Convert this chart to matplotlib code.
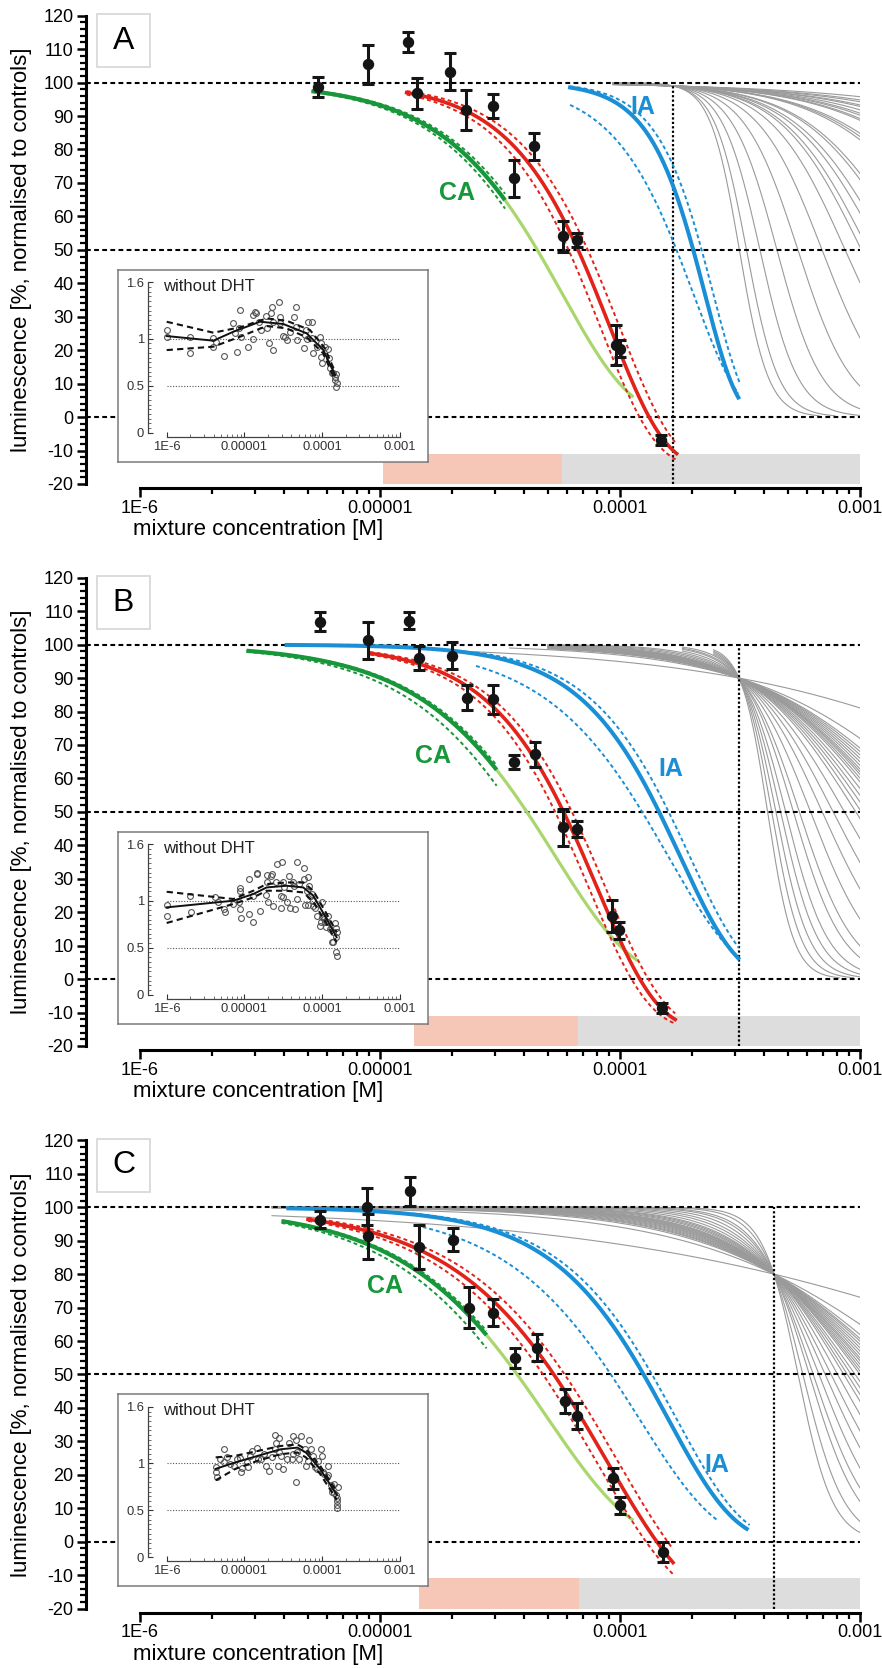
import numpy as np
import matplotlib
matplotlib.use('Agg')
import matplotlib.pyplot as plt
from matplotlib.patches import Rectangle
from matplotlib.ticker import FixedLocator, NullFormatter

plt.rcParams['font.family'] = ['Liberation Sans', 'DejaVu Sans']

W, H, DPI = 882, 1668, 100

# ---------------- tick data ----------------
x_ticks = [1e-6, 1e-5, 1e-4, 1e-3]
x_ticklabels = ['1E-6', '0.00001', '0.0001', '0.001']
y_ticks = list(range(-20, 121, 10))
ins_y_ticks = [0, 0.5, 1, 1.6]
ins_y_labels = ['0', '0.5', '1', '1.6']
panel_letters = ['A', 'B', 'C']

# ---------------- measured points (conc [M], mean [%], error) ----------------
conc_A = [5.5e-6, 8.9e-6, 1.31e-5, 1.42e-5, 1.96e-5, 2.28e-5, 2.95e-5, 3.63e-5, 4.4e-5, 5.8e-5, 6.6e-5, 9.6e-5, 1.0e-4, 1.48e-4]
mean_A = [98.6, 105.5, 112.2, 96.8, 103.3, 91.8, 93.0, 71.4, 80.9, 54.0, 53.0, 21.5, 20.5, -6.8]
err_A = [3.0, 5.8, 3.0, 4.7, 5.5, 6.0, 3.5, 5.5, 3.9, 4.7, 2.0, 6.0, 2.5, 1.5]

conc_B = [5.6e-6, 8.9e-6, 1.32e-5, 1.45e-5, 1.99e-5, 2.3e-5, 2.95e-5, 3.63e-5, 4.43e-5, 5.81e-5, 6.6e-5, 9.3e-5, 9.9e-5, 1.49e-4]
mean_B = [106.9, 101.3, 107.1, 96.0, 96.7, 84.1, 83.6, 64.9, 67.2, 45.4, 44.9, 18.8, 14.6, -8.7]
err_B = [2.7, 5.6, 2.5, 3.7, 4.0, 3.7, 4.2, 2.0, 3.8, 5.5, 2.5, 4.7, 2.5, 1.5]

conc_C = [5.6e-6, 8.8e-6, 8.9e-6, 1.33e-5, 1.45e-5, 2.02e-5, 2.34e-5, 2.96e-5, 3.65e-5, 4.5e-5, 5.9e-5, 6.6e-5, 9.33e-5, 1.0e-4, 1.51e-4]
mean_C = [96.3, 100.2, 91.3, 104.7, 88.1, 90.3, 70.0, 68.5, 54.8, 58.0, 42.1, 37.7, 19.0, 10.9, -3.0]
err_C = [2.5, 5.6, 6.8, 4.2, 6.5, 3.5, 6.2, 4.0, 3.0, 4.1, 3.6, 3.9, 3.1, 2.5, 3.0]

# ---------------- fitted curve parameters (Weibull with bottom) ----------------
# [bottom, slope k, location m (log10 M), log10 start, log10 end, CI shift]
red_A = [-15, 4.3, -4.044, -4.889, -3.764, 0.04]
red_B = [-15, 4.0, -4.095, -5.042, -3.770, 0.035]
red_C = [-20, 2.8, -4.055, -5.300, -3.779, 0.045]
# CA: [bottom, k, m, start, end of dark part, end of light part, CI low shift, CI high shift]
ca_A = [0, 3.5, -4.24, -5.285, -4.479, -3.944, -0.025, 0.02]
ca_B = [0, 3.1, -4.27, -5.556, -4.514, -3.924, -0.05, 0.015]
ca_C = [0, 2.85, -4.30, -5.410, -4.556, -3.944, -0.045, 0.015]
# IA: [bottom, k, m, start, end]; upper CI [m shift, start, end]; lower CI [k, m, start, end]
ia_A = [0, 7.5, -3.646, -4.208, -3.507]
ia_A_hi = [0.035, -4.208, -3.50]
ia_A_lo = [5.2, -3.694, -4.208, -3.507]
ia_B = [0, 4.2, -3.75, -5.389, -3.507]
ia_B_hi = [0.04, -4.60, -3.505]
ia_B_lo = [3.4, -3.80, -4.60, -3.528]
ia_C = [0, 3.6, -3.80, -5.382, -3.472]
ia_C_hi = [0.035, -4.95, -3.46]
ia_C_lo = [3.1, -3.92, -4.85, -3.597]

# ---------------- grey single-substance curves ----------------
pivot_A = [1.66e-4, 99.0]
pivot_B = [3.13e-4, 90.0]
pivot_C = [4.38e-4, 80.0]
grey_slopes_A = [0.82, 0.94, 1.0, 1.09, 1.13, 1.21, 1.28, 1.32, 1.38, 1.41, 1.6, 1.64, 1.68, 2.01,
                 2.06, 2.22, 2.31, 2.45, 2.54, 2.78, 3.21, 3.83, 4.6, 5.5, 6.5, 7.2]
grey_start_A = [-4.03] * len(grey_slopes_A)
grey_slopes_B = [0.64, 1.08, 1.20, 1.24, 1.28, 1.32, 1.36, 1.40, 1.44, 1.47, 1.50, 1.54, 1.58, 1.65, 1.72,
                 1.79, 1.87, 1.96, 2.17, 2.43, 2.75, 3.20, 3.79, 4.20, 4.90, 5.50, 6.20, 7.00, 8.00]
grey_start_B = [-4.65, -4.46, -4.30, -4.30, -4.30, -4.30, -4.30, -4.30, -4.30, -4.30, -4.30, -4.30, -4.30,
                -4.30, -4.30, -4.30, -4.30, -4.30, -4.30, -4.30, -4.30, -3.74, -3.74, -3.74, -3.74, -3.61,
                -3.61, -3.61, -3.61]
grey_slopes_C = [0.47, 0.93, 1.09, 1.15, 1.19, 1.24, 1.29, 1.34, 1.39, 1.44, 1.48, 1.53, 1.58, 1.63, 1.68,
                 1.78, 1.87, 1.97, 2.07, 2.27, 2.53, 2.82, 3.21, 3.68, 4.09, 5.0, 6.0]
grey_start_C = [-5.45] * len(grey_slopes_C)

# ---------------- bottom bands ----------------
band_pink_A = [1.03e-5, 5.71e-5]
band_grey_A = [5.71e-5, 1e-3]
band_pink_B = [1.39e-5, 6.7e-5]
band_grey_B = [6.7e-5, 1e-3]
band_pink_C = [1.46e-5, 6.76e-5]
band_grey_C = [6.76e-5, 1e-3]

# ---------------- labels positions (data) ----------------
ca_label_A = [2.09e-5, 66.9]
ia_label_A = [1.25e-4, 92.8]
ca_label_B = [1.67e-5, 66.7]
ia_label_B = [1.63e-4, 62.8]
ca_label_C = [1.05e-5, 76.4]
ia_label_C = [2.54e-4, 22.8]

# ---------------- inset data (log10 conc, ratio) ----------------
insA_logc = [-6.0, -6.0, -5.70, -5.70, -5.40, -5.40, -5.366, -5.263, -5.143, -5.122, -5.092, -5.066, -5.057,
             -5.049, -4.950, -4.895, -4.886, -4.865, -4.852, -4.809, -4.792, -4.723, -4.715, -4.689, -4.663,
             -4.650, -4.638, -4.629, -4.552, -4.543, -4.543, -4.509, -4.475, -4.458, -4.415, -4.363, -4.338,
             -4.338, -4.329, -4.235, -4.222, -4.209, -4.200, -4.179, -4.136, -4.136, -4.115, -4.072, -4.029,
             -4.021, -4.016, -4.008, -3.965, -3.922, -3.913, -3.901, -3.879, -3.858, -3.836, -3.823, -3.836,
             -3.815, -3.823]
insA_ratio = [1.092, 1.014, 1.014, 0.851, 1.004, 0.915, 0.968, 0.819, 1.170, 1.057, 0.862, 1.110, 1.305,
              1.014, 0.915, 1.252, 0.993, 1.287, 1.277, 1.181, 1.092, 1.245, 1.110, 0.957, 1.270, 1.333,
              0.879, 1.174, 1.394, 1.234, 1.163, 1.028, 1.014, 0.986, 1.074, 1.234, 1.333, 1.128, 0.986,
              0.904, 1.039, 1.092, 0.993, 1.181, 1.181, 1.004, 0.844, 0.908, 1.021, 0.957, 0.809, 0.745,
              0.915, 0.887, 0.791, 0.684, 0.638, 0.631, 0.596, 0.624, 0.560, 0.525, 0.489]
insA_line_logc = [-6.0, -5.40, -5.143, -4.8, -4.5, -4.2, -3.986, -3.836]
insA_line = [1.028, 0.979, 1.074, 1.181, 1.156, 1.057, 0.879, 0.613]
insA_upper_logc = [-6.0, -5.4, -5.057, -4.715, -4.458, -4.157, -3.965, -3.836]
insA_upper = [1.18, 1.064, 1.121, 1.216, 1.191, 1.092, 0.897, 0.649]
insA_lower_logc = [-6.0, -5.4, -5.057, -4.715, -4.458, -4.2, -3.986, -3.836]
insA_lower = [0.879, 0.915, 1.021, 1.135, 1.11, 1.014, 0.844, 0.56]

insB_logc = [-6.0, -6.0, -5.700, -5.687, -5.379, -5.344, -5.259, -5.250, -5.143, -5.070, -5.057, -5.057,
             -5.057, -5.049, -4.946, -4.937, -4.886, -4.886, -4.843, -4.835, -4.800, -4.723, -4.715, -4.706,
             -4.702, -4.663, -4.642, -4.629, -4.595, -4.586, -4.530, -4.522, -4.530, -4.500, -4.500, -4.488,
             -4.458, -4.432, -4.415, -4.372, -4.363, -4.355, -4.329, -4.329, -4.295, -4.231, -4.231, -4.218,
             -4.200, -4.183, -4.179, -4.166, -4.158, -4.132, -4.123, -4.115, -4.089, -4.063, -4.029, -4.021,
             -4.008, -4.0, -3.986, -3.978, -3.961, -3.952, -3.943, -3.922, -3.901, -3.879, -3.858, -3.836,
             -3.823, -3.815, -3.823, -3.823, -3.815, -3.858]
insB_ratio = [0.954, 0.841, 1.053, 0.883, 1.042, 0.989, 0.912, 0.883, 0.965, 0.982, 1.131, 1.106, 0.912,
              0.813, 0.859, 1.230, 0.777, 1.053, 1.300, 1.283, 0.894, 1.060, 1.194, 1.272, 0.982, 1.265,
              1.283, 0.940, 1.194, 1.389, 1.046, 1.413, 0.919, 1.194, 1.035, 1.141, 0.982, 1.265, 0.919,
              1.194, 1.159, 0.912, 1.413, 1.018, 1.177, 1.353, 1.230, 0.954, 1.106, 1.247, 0.954, 1.159,
              1.053, 1.071, 1.0, 0.947, 0.919, 0.841, 0.728, 0.770, 0.989, 0.823, 0.841, 0.806, 0.770,
              0.717, 0.770, 0.834, 0.700, 0.558, 0.664, 0.763, 0.707, 0.664, 0.611, 0.452, 0.417, 0.558]
insB_line_logc = [-6.0, -5.143, -4.886, -4.715, -4.458, -4.244, -4.115, -3.943, -3.815]
insB_line = [0.929, 1.0, 1.071, 1.141, 1.159, 1.141, 1.053, 0.806, 0.611]
insB_upper = [1.095, 1.018, 1.106, 1.177, 1.194, 1.194, 1.106, 0.859, 0.664]
insB_lower = [0.763, 0.965, 1.035, 1.106, 1.106, 1.088, 0.989, 0.753, 0.558]

insC_logc = [-5.370, -5.370, -5.348, -5.319, -5.261, -5.261, -5.225, -5.188, -5.130, -5.101, -5.058, -5.043,
             -5.029, -4.971, -4.949, -4.935, -4.899, -4.841, -4.826, -4.790, -4.754, -4.717, -4.681, -4.645,
             -4.609, -4.609, -4.594, -4.572, -4.558, -4.551, -4.536, -4.500, -4.449, -4.428, -4.391, -4.377,
             -4.333, -4.377, -4.341, -4.319, -4.297, -4.268, -4.225, -4.210, -4.188, -4.174, -4.138, -4.123,
             -4.087, -4.065, -4.051, -4.014, -4.007, -3.993, -3.971, -3.942, -3.920, -3.920, -3.884, -3.870,
             -3.855, -3.848, -3.826, -3.812, -3.812, -3.812, -3.812, -3.797]
insC_ratio = [0.906, 0.958, 0.854, 1.045, 1.149, 1.010, 1.063, 0.993, 0.976, 1.045, 1.052, 0.906, 0.948,
              1.010, 0.958, 1.080, 1.132, 1.167, 1.045, 1.045, 1.097, 0.976, 0.913, 1.063, 1.306, 1.149,
              1.219, 0.976, 1.271, 1.115, 1.080, 0.941, 1.045, 1.219, 1.045, 1.097, 0.802, 1.288, 1.253,
              1.115, 1.045, 1.288, 1.149, 0.976, 1.028, 1.253, 1.149, 1.080, 0.958, 0.941, 1.028, 1.149,
              1.080, 0.906, 0.889, 0.854, 0.872, 0.976, 0.767, 0.698, 0.785, 0.681, 0.663, 0.628, 0.594,
              0.559, 0.524, 0.750]
insC_line_logc = [-5.37, -5.116, -4.826, -4.536, -4.319, -4.210, -4.029, -3.812]
insC_line = [0.941, 1.010, 1.080, 1.149, 1.167, 1.115, 0.941, 0.663]
insC_upper = [1.063, 1.080, 1.132, 1.184, 1.201, 1.149, 0.976, 0.698]
insC_lower = [0.819, 0.941, 1.028, 1.097, 1.115, 1.063, 0.889, 0.611]

# ---------------- colours ----------------
RED = '#E2231A'
GREEN = '#17973A'
LGREEN = '#A9D76E'
BLUE = '#1A8FD6'
GREY = '#9A9A9A'
PINK = '#F6C6B6'
BANDGREY = '#DDDDDD'


def weib(u, bottom, k, m):
    return bottom + (100.0 - bottom) * np.exp(-np.exp(k * (u - m)))


def hill_pivot(u, u0, y0, h):
    r0 = 100.0 / y0 - 1.0
    return 100.0 / (1.0 + r0 * 10 ** (h * (u - u0)))


def frect(l, t, r, b):
    return [l / W, 1 - b / H, (r - l) / W, (b - t) / H]


fig = plt.figure(figsize=(W / DPI, H / DPI), dpi=DPI)

panels = [
    dict(top=15.7, letter='A', conc=conc_A, mean=mean_A, err=err_A, red=red_A, ca=ca_A,
         ia=ia_A, ia_hi=ia_A_hi, ia_lo=ia_A_lo, pivot=pivot_A, gs=grey_slopes_A, gst=grey_start_A,
         pink=band_pink_A, bgrey=band_grey_A, cal=ca_label_A, ial=ia_label_A,
         ins=(insA_logc, insA_ratio, insA_line_logc, insA_line, insA_upper_logc, insA_upper,
              insA_lower_logc, insA_lower)),
    dict(top=577.7, letter='B', conc=conc_B, mean=mean_B, err=err_B, red=red_B, ca=ca_B,
         ia=ia_B, ia_hi=ia_B_hi, ia_lo=ia_B_lo, pivot=pivot_B, gs=grey_slopes_B, gst=grey_start_B,
         pink=band_pink_B, bgrey=band_grey_B, cal=ca_label_B, ial=ia_label_B,
         ins=(insB_logc, insB_ratio, insB_line_logc, insB_line, insB_line_logc, insB_upper,
              insB_line_logc, insB_lower)),
    dict(top=1140.3, letter='C', conc=conc_C, mean=mean_C, err=err_C, red=red_C, ca=ca_C,
         ia=ia_C, ia_hi=ia_C_hi, ia_lo=ia_C_lo, pivot=pivot_C, gs=grey_slopes_C, gst=grey_start_C,
         pink=band_pink_C, bgrey=band_grey_C, cal=ca_label_C, ial=ia_label_C,
         ins=(insC_logc, insC_ratio, insC_line_logc, insC_line, insC_line_logc, insC_upper,
              insC_line_logc, insC_lower)),
]

minor_x = [m * 10.0 ** d for d in (-6, -5, -4) for m in range(2, 10)]

for P in panels:
    T = P['top']
    ax = fig.add_axes(frect(86, T, 860, T + 468.3))
    ax.set_xscale('log')
    ax.set_xlim(10 ** -6.225, 1e-3)
    ax.set_ylim(-20, 120)
    ax.patch.set_alpha(0)
    for s in ('top', 'right'):
        ax.spines[s].set_visible(False)
    ax.spines['left'].set_bounds(-20, 120)
    ax.spines['bottom'].set_bounds(1e-6, 1e-3)
    ax.spines['bottom'].set_position(('outward', 2.9))
    for s in ('left', 'bottom'):
        ax.spines[s].set_linewidth(2.2)
    ax.set_xticks(x_ticks)
    ax.set_xticklabels(x_ticklabels)
    ax.xaxis.set_minor_locator(FixedLocator(minor_x))
    ax.xaxis.set_minor_formatter(NullFormatter())
    ax.set_yticks(y_ticks)
    ax.set_yticklabels([str(v) for v in y_ticks])
    ax.yaxis.set_minor_locator(FixedLocator(list(range(-20, 121, 2))))
    ax.tick_params(axis='both', which='major', labelsize=13, width=1.8, length=6.5, direction='out')
    ax.tick_params(axis='both', which='minor', width=1.6, length=4, direction='out')
    ax.tick_params(axis='x', which='major', pad=2)
    ax.tick_params(axis='y', which='major', pad=2.5)

    ax.text(-0.0827, 0.5, 'luminescence [%, normalised to controls]', rotation=90,
            transform=ax.transAxes, ha='center', va='center', fontsize=16)
    ax.text(0.222, -0.098, 'mixture concentration [M]', transform=ax.transAxes,
            ha='center', va='center', fontsize=16)

    # bottom bands
    ax.fill_between(P['pink'], -20, -11, color=PINK, lw=0, zorder=0.5)
    ax.fill_between(P['bgrey'], -20, -11, color=BANDGREY, lw=0, zorder=0.5)

    # grey curves
    u0 = np.log10(P['pivot'][0])
    y0 = P['pivot'][1]
    for h, st in zip(P['gs'], P['gst']):
        u = np.linspace(st, -3.0, 500)
        y = hill_pivot(u, u0, y0, h)
        keep = y >= 0.4
        ax.plot(10 ** u[keep], y[keep], color=GREY, lw=0.8, zorder=1)

    # reference lines
    for yy in (100, 50, 0):
        ax.plot([10 ** -6.225, 1e-3], [yy, yy], color='k', lw=1.5, ls=(0, (2.3, 1.6)), zorder=2)
    ax.plot([P['pivot'][0]] * 2, [-20, 100], color='k', lw=1.6, ls=(0, (1, 1)), zorder=2)

    # CA prediction
    b, k, m, s0, s1, s2, clo, chi = P['ca']
    u = np.linspace(s1, s2, 200)
    ax.plot(10 ** u, weib(u, b, k, m), color=LGREEN, lw=2.3, zorder=3, solid_capstyle='butt')
    u = np.linspace(s0, s1, 300)
    ax.plot(10 ** u, weib(u, b, k, m), color=GREEN, lw=3.0, zorder=3.2, solid_capstyle='butt')
    for sh in (clo, chi):
        ax.plot(10 ** u, weib(u, b, k, m + sh), color=GREEN, lw=1.4, ls=(0, (2, 1.5)), zorder=3.1)

    # IA prediction
    b, k, m, s0, s1 = P['ia']
    u = np.linspace(s0, s1, 300)
    ax.plot(10 ** u, weib(u, b, k, m), color=BLUE, lw=2.9, zorder=3)
    sh, a0, a1 = P['ia_hi']
    u = np.linspace(a0, a1, 300)
    ax.plot(10 ** u, weib(u, b, k, m + sh), color=BLUE, lw=1.4, ls=(0, (2, 1.5)), zorder=3)
    k2, m2, a0, a1 = P['ia_lo']
    u = np.linspace(a0, a1, 300)
    ax.plot(10 ** u, weib(u, b, k2, m2), color=BLUE, lw=1.4, ls=(0, (2, 1.5)), zorder=3)

    # fitted mixture curve
    b, k, m, s0, s1, ci = P['red']
    u = np.linspace(s0, s1, 300)
    ax.plot(10 ** u, weib(u, b, k, m), color=RED, lw=2.6, zorder=4)
    for sh in (-ci, ci):
        ax.plot(10 ** u, weib(u, b, k, m + sh), color=RED, lw=1.4, ls=(0, (2, 1.6)), zorder=4)

    # data
    ax.errorbar(P['conc'], P['mean'], yerr=P['err'], fmt='o', color='#151515', ms=7.2,
                elinewidth=2.2, capsize=4.2, capthick=2.2, zorder=6)

    ax.text(P['cal'][0], P['cal'][1], 'CA', color=GREEN, fontsize=18, fontweight='bold',
            ha='center', va='center', zorder=7)
    ax.text(P['ial'][0], P['ial'][1], 'IA', color=BLUE, fontsize=18, fontweight='bold',
            ha='center', va='center', zorder=7)

    # panel letter box
    ax.add_patch(Rectangle((0.0142, 0.890), 0.0685, 0.1136, transform=ax.transAxes,
                           facecolor='white', edgecolor='#D6D6D6', lw=1.2, clip_on=False, zorder=8))
    ax.text(0.0485, 0.947, P['letter'], transform=ax.transAxes, ha='center', va='center',
            fontsize=23, zorder=9)

    # inset frame
    box = fig.add_axes(frect(118, T + 254, 428, T + 446))
    box.set_xticks([])
    box.set_yticks([])
    for s in box.spines.values():
        s.set_edgecolor('#7A7A7A')
        s.set_linewidth(1.1)

    ins = fig.add_axes(frect(148.3, T + 266.6, 400, T + 417))
    ins.patch.set_alpha(0)
    ins.set_xscale('log')
    ins.set_xlim(10 ** -6.2365, 1e-3)
    ins.set_ylim(0, 1.6)
    for s in ('top', 'right'):
        ins.spines[s].set_visible(False)
    ins.spines['bottom'].set_bounds(1e-6, 1e-3)
    ins.spines['bottom'].set_position(('outward', 2.9))
    ins.spines['left'].set_bounds(0, 1.6)
    for s in ('left', 'bottom'):
        ins.spines[s].set_linewidth(0.9)
        ins.spines[s].set_color('#444444')
    ins.set_xticks(x_ticks)
    ins.set_xticklabels(x_ticklabels)
    ins.xaxis.set_minor_locator(FixedLocator(minor_x))
    ins.xaxis.set_minor_formatter(NullFormatter())
    ins.set_yticks(ins_y_ticks)
    ins.set_yticklabels(ins_y_labels)
    ins.yaxis.set_minor_locator(FixedLocator(list(np.arange(0, 1.61, 0.05))))
    ins.tick_params(axis='both', which='major', labelsize=9.4, width=0.8, length=3.5,
                    direction='in', colors='#333333', pad=3)
    ins.tick_params(axis='both', which='minor', width=0.6, length=2, direction='in', colors='#555555')

    lc, rt, llc, ll, ulc, ul, lolc, lol = P['ins']
    for yy in (1.0, 0.5):
        ins.plot([1e-6, 1e-3], [yy, yy], color='#555555', lw=0.8, ls=(0, (1, 1.5)), zorder=1)
    ins.plot(10 ** np.array(lc), rt, 'o', mfc='none', mec='#555555', mew=0.8, ms=4.2, zorder=2)
    ins.plot(10 ** np.array(llc), ll, color='#111111', lw=1.4, zorder=3)
    ins.plot(10 ** np.array(ulc), ul, color='#111111', lw=1.5, ls=(0, (3, 2)), zorder=3)
    ins.plot(10 ** np.array(lolc), lol, color='#111111', lw=1.5, ls=(0, (3, 2)), zorder=3)
    ins.text(0.06, 0.975, 'without DHT', transform=ins.transAxes, ha='left', va='center',
             fontsize=12, color='#222222')

fig.savefig('out.png', dpi=DPI)
